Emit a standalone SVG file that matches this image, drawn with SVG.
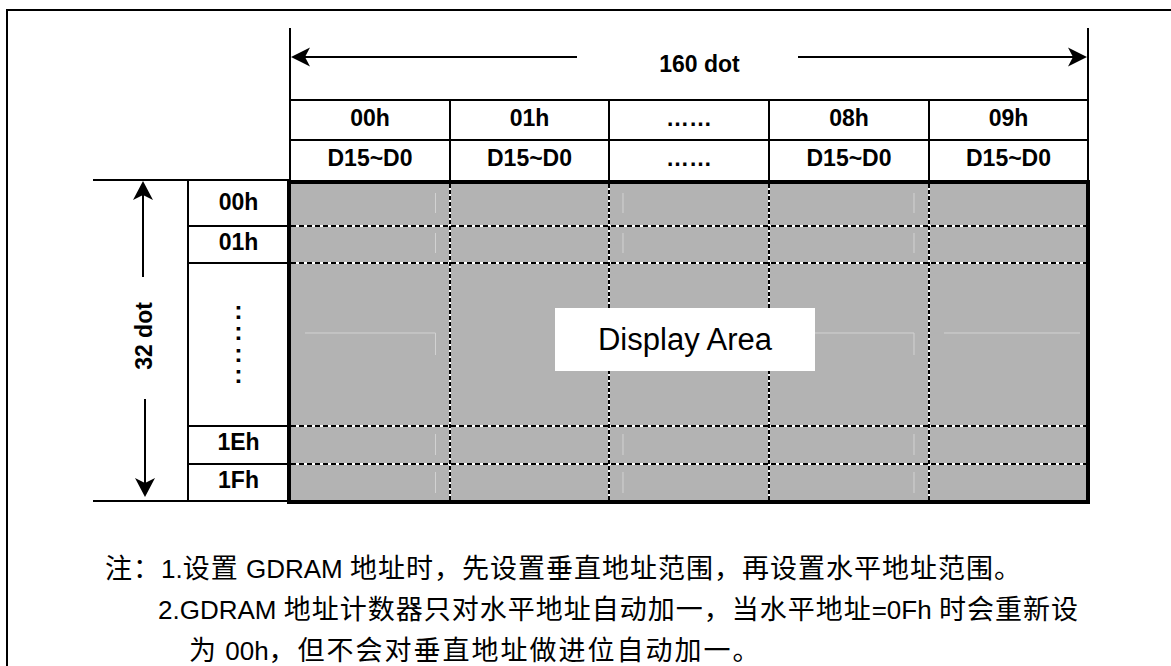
<svg xmlns="http://www.w3.org/2000/svg" width="1171" height="666" viewBox="0 0 1171 666">
<defs>
<style>
.ln{stroke:#000;stroke-width:2;fill:none}
.b{font-family:"Liberation Sans",Arial,sans-serif;font-weight:bold;font-size:23px;fill:#000;text-anchor:middle}
.wd{stroke:#fff;stroke-width:2}
.dv{stroke:#000;stroke-width:2;stroke-dasharray:4 2}
.dh{stroke:#000;stroke-width:2;stroke-dasharray:5 3}
.ft{stroke:#d2d2d2;stroke-width:1;fill:none}
.note{font-family:"Liberation Sans","Noto Sans CJK SC",sans-serif;fill:#000}
.c{font-size:27px;letter-spacing:1px}
.c3{font-size:27px;letter-spacing:2px}
.l{font-size:26px}
</style>
</defs>
<rect width="1171" height="666" fill="#fff"/>
<path class="ln" d="M7,666 V10 H1171"/>

<g id="display-area">
<rect x="289" y="182" width="799" height="320" fill="#b3b3b3"/>
<g class="ft">
<path d="M435.5,193 V213 M435.5,233 V253 M435.5,333 V355 M435.5,434 V455 M435.5,472 V493 M305,333 H435.5"/>
<path d="M623,193 V213 M623,233 V253 M623,434 V455 M623,472 V493"/>
<path d="M914,193 V213 M914,233 V253 M914,333 V355 M914,434 V455 M914,472 V493 M815,333 H914 M944,333 H1080"/>
</g>
<g>
<line class="wd" x1="291" y1="226" x2="1086" y2="226"/><line class="dh" x1="291" y1="226" x2="1086" y2="226"/>
<line class="wd" x1="291" y1="263" x2="1086" y2="263"/><line class="dh" x1="291" y1="263" x2="1086" y2="263"/>
<line class="wd" x1="291" y1="426" x2="1086" y2="426"/><line class="dh" x1="291" y1="426" x2="1086" y2="426"/>
<line class="wd" x1="291" y1="464" x2="1086" y2="464"/><line class="dh" x1="291" y1="464" x2="1086" y2="464"/>
<line class="wd" x1="450" y1="184" x2="450" y2="500"/><line class="dv" x1="450" y1="184" x2="450" y2="500"/>
<line class="wd" x1="609" y1="184" x2="609" y2="500"/><line class="dv" x1="609" y1="184" x2="609" y2="500"/>
<line class="wd" x1="769" y1="184" x2="769" y2="500"/><line class="dv" x1="769" y1="184" x2="769" y2="500"/>
<line class="wd" x1="929" y1="184" x2="929" y2="500"/><line class="dv" x1="929" y1="184" x2="929" y2="500"/>
</g>
<rect x="289" y="182" width="799" height="320" fill="none" stroke="#000" stroke-width="4"/>
<rect x="555" y="308" width="260" height="63" fill="#fff"/>
<text x="685" y="350" font-family="'Liberation Sans',Arial,sans-serif" font-size="31" text-anchor="middle" fill="#000">Display Area</text>
</g>

<g id="column-header">
<path class="ln" d="M290,28 V182 M1088,28 V182 M290,100 H1088 M290,140 H1088 M450,100 V182 M609,100 V182 M769,100 V182 M929,100 V182"/>
<text class="b" x="370" y="126">00h</text>
<text class="b" x="529.5" y="126">01h</text>
<text class="b" x="689" y="126">……</text>
<text class="b" x="849" y="126">08h</text>
<text class="b" x="1008.5" y="126">09h</text>
<text class="b" x="370" y="166">D15~D0</text>
<text class="b" x="529.5" y="166">D15~D0</text>
<text class="b" x="689" y="166">……</text>
<text class="b" x="849" y="166">D15~D0</text>
<text class="b" x="1008.5" y="166">D15~D0</text>
<text class="b" x="699.5" y="72">160 dot</text>
</g>

<g id="row-header">
<path class="ln" d="M93,180 H290 M93,501 H290 M188,180 V501 M188,226 H290 M188,263 H290 M188,426 H290 M188,464 H290"/>
<text class="b" x="238.5" y="210">00h</text>
<text class="b" x="238.5" y="250">01h</text>
<text class="b" style="font-size:25px"><tspan x="238.5" y="318.8">:</tspan><tspan x="238.5" y="339.8">:</tspan><tspan x="238.5" y="361.8">:</tspan><tspan x="238.5" y="382.5">:</tspan></text>
<text class="b" x="238.5" y="450">1Eh</text>
<text class="b" x="238.5" y="488">1Fh</text>
<text class="b" transform="translate(152,336) rotate(-90)">32 dot</text>
</g>

<g id="connectors">
<line x1="300" y1="57" x2="577" y2="57" stroke="#000" stroke-width="2"/>
<path d="M291,57 L310,47.5 L305,57 L310,66.5 Z" fill="#000"/>
<line x1="798" y1="57" x2="1078" y2="57" stroke="#000" stroke-width="2"/>
<path d="M1087,57 L1068,47.5 L1073,57 L1068,66.5 Z" fill="#000"/>
<line x1="143" y1="190" x2="143" y2="277" stroke="#000" stroke-width="2"/>
<path d="M143,181 L133,200 L143,195 L153,200 Z" fill="#000"/>
<line x1="145" y1="399" x2="145" y2="488" stroke="#000" stroke-width="2"/>
<path d="M145,497 L135,478 L145,483 L155,478 Z" fill="#000"/>
</g>

<g id="notes" class="note">
<text x="105" y="578"><tspan class="c">注：</tspan><tspan class="l">1.</tspan><tspan class="c">设置</tspan><tspan class="l"> GDRAM </tspan><tspan class="c">地址时，先设置垂直地址范围，再设置水平地址范围。</tspan></text>
<text x="158" y="619"><tspan class="l">2.GDRAM </tspan><tspan class="c">地址计数器只对水平地址自动加一，当水平地址</tspan><tspan class="l">=0Fh </tspan><tspan class="c">时会重新设</tspan></text>
<text x="189" y="660"><tspan class="c3">为</tspan><tspan class="l"> 00h</tspan><tspan class="c3">，但不会对垂直地址做进位自动加一。</tspan></text>
</g>
</svg>
